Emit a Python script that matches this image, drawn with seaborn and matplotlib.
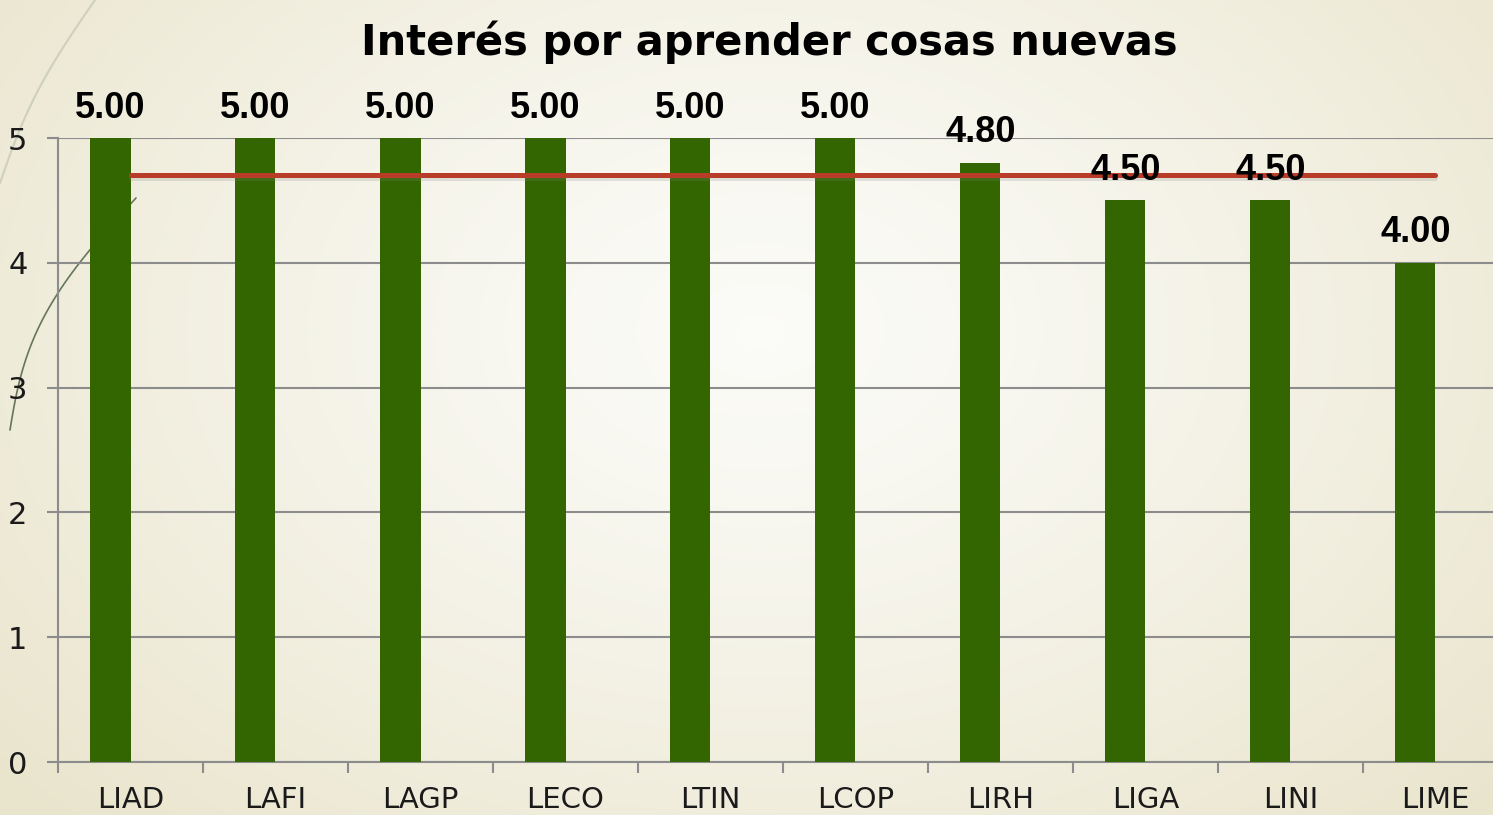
import numpy as np
import pandas as pd
import matplotlib
matplotlib.use("Agg")
import matplotlib.pyplot as plt
import matplotlib.patheffects as pe
import seaborn as sns


# ===============================
# DATOS
# ===============================

carreras = ["LIAD", "LAFI", "LAGP", "LECO", "LTIN", "LCOP", "LIRH", "LIGA", "LINI", "LIME"]
puntajes = [5.00, 5.00, 5.00, 5.00, 5.00, 5.00, 4.80, 4.50, 4.50, 4.00]
promedio = [4.70] * len(carreras)
y_ticks = [0, 1, 2, 3, 4, 5]
titulo = "Interés por aprender cosas nuevas"

df = pd.DataFrame({"carrera": carreras, "puntaje": puntajes, "promedio": promedio})


# ===============================
# FIGURA
# ===============================

sns.set_theme(style="white")
plt.rcParams["font.family"] = ["DejaVu Sans"]

W, H = 1493, 815
fig = plt.figure(figsize=(W / 100, H / 100), dpi=100)

# fondo degradado radial
bg = fig.add_axes([0, 0, 1, 1], zorder=-10)
yy, xx = np.mgrid[0:H, 0:W]
r = np.sqrt(((xx - 760) / 1000.0) ** 2 + ((yy - 330) / 700.0) ** 2)
r = np.clip(r, 0, 1) ** 1.3
c0 = np.array([0.985, 0.985, 0.97])
c1 = np.array([0.915, 0.895, 0.80])
img = c0 + (c1 - c0) * r[..., None]
bg.imshow(img, aspect="auto", extent=[0, W, H, 0])

# curvas decorativas
t = np.linspace(0, 1, 60)
bg.plot(95 * (1 - t) - 10 * np.sin(np.pi * t), 183 * t, color="#cfd0bc", lw=1.5)
bg.plot(136 - 136 * t - 25 * np.sin(np.pi * t) + 10 * t ** 2, 198 + 232 * t, color="#66765a", lw=1.2)
bg.set_xlim(0, W)
bg.set_ylim(H, 0)
bg.axis("off")

# ejes principales
ax = fig.add_axes([58 / W, 53 / H, 1450 / W, 624 / H])
ax.set_facecolor("none")

sns.barplot(data=df, x="carrera", y="puntaje", color="#336600", saturation=1,
            width=0.276, ax=ax, zorder=3)

# barras desplazadas a la izquierda del centro de la categoria
for p in ax.patches:
    p.set_x(p.get_x() - 0.138)
    p.set_edgecolor("none")

for p, v in zip(ax.patches, puntajes):
    ax.annotate(f"{v:.2f}", (p.get_x() + p.get_width() / 2, v),
                xytext=(0, 9), textcoords="offset points",
                ha="center", va="bottom", fontsize=26, fontweight="bold",
                fontstretch="normal", family="Liberation Sans", color="black",
                annotation_clip=False, zorder=5)

sns.lineplot(data=df, x="carrera", y="promedio", color="#b83c28", linewidth=3.6,
             ax=ax, zorder=4, solid_capstyle="round",
             path_effects=[pe.SimpleLineShadow(offset=(0, -2), shadow_color="gray", alpha=0.2),
                           pe.Normal()])

ax.set_xlim(-0.5, 9.5)
ax.set_ylim(0, 5)

# ticks: marcas en los limites, etiquetas en los centros
ax.set_xticks(np.arange(-0.5, 10, 1))
ax.set_xticklabels([])
ax.set_xticks(range(len(carreras)), labels=carreras, minor=True)
ax.tick_params(axis="x", which="major", bottom=True, length=8, width=1.5,
               color="#8c8c8c", direction="out")
ax.tick_params(axis="x", which="minor", bottom=True, length=0, pad=17,
               labelsize=21, labelcolor="#1a1a1a")

ax.set_yticks(y_ticks)
ax.tick_params(axis="y", left=True, length=8, width=1.5, color="#8c8c8c",
               pad=14, labelsize=22, labelcolor="#1a1a1a")

ax.yaxis.grid(True, color="#8c8c8c", linewidth=1.5)
ax.set_axisbelow(True)

for s in ["top", "right"]:
    ax.spines[s].set_visible(False)
for s in ["left", "bottom"]:
    ax.spines[s].set_color("#8c8c8c")
    ax.spines[s].set_linewidth(1.5)

ax.set_xlabel("")
ax.set_ylabel("")

fig.text(769 / W, 1 - 55 / H, titulo, ha="center", va="baseline",
         fontsize=30, fontweight="bold", color="black")

fig.savefig("out.png", dpi=100)
